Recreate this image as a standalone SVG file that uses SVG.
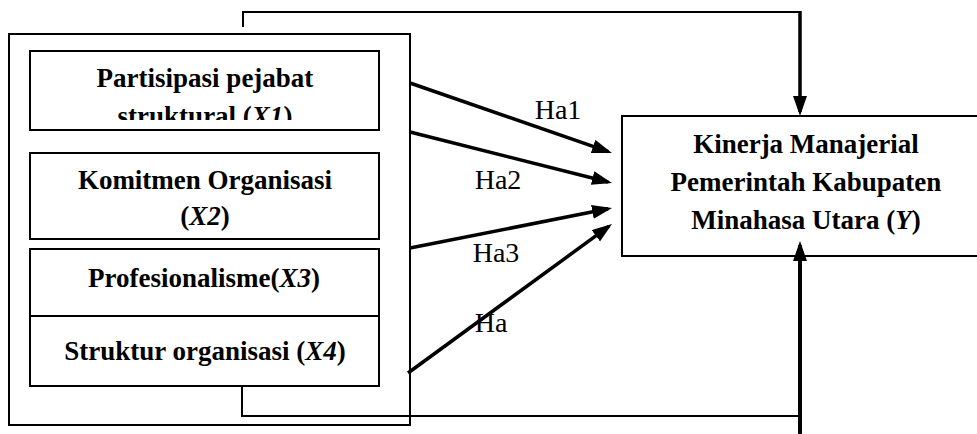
<svg xmlns="http://www.w3.org/2000/svg" width="977" height="434" viewBox="0 0 977 434">
<style>
.box{fill:none;stroke:#000;stroke-width:2}
.t{font-family:'Liberation Serif','Times New Roman','DejaVu Serif',serif;font-weight:bold;font-size:27px;fill:#000;text-anchor:middle}
.lbl{font-family:'Liberation Serif','Times New Roman','DejaVu Serif',serif;font-size:28px;fill:#000;text-anchor:middle}
.arr{fill:none;stroke:#000;stroke-width:3.5}
.thin{fill:none;stroke:#000;stroke-width:2}
</style>
<defs>
<marker id="ah" markerUnits="userSpaceOnUse" markerWidth="22" markerHeight="16" refX="16" refY="7" orient="auto">
<path d="M0,0 L20,7 L0,14 z" fill="#000"/>
</marker>
<clipPath id="c1"><rect x="30" y="51" width="349" height="69"/></clipPath>
</defs>
<rect width="977" height="434" fill="#fff"/>
<g id="outer"><rect class="box" x="9" y="34" width="401" height="391"/></g>
<g id="x1">
<rect class="box" x="30" y="51" width="349" height="79"/>
<g clip-path="url(#c1)">
<text class="t" x="205" y="87">Partisipasi pejabat</text>
<text class="t" x="205" y="125">struktural (<tspan font-style="italic">X1</tspan>)</text>
</g>
</g>
<g id="x2">
<rect class="box" x="30" y="153" width="349" height="86"/>
<text class="t" x="205" y="189">Komitmen Organisasi</text>
<text class="t" x="205" y="225">(<tspan font-style="italic">X2</tspan>)</text>
</g>
<g id="x3">
<rect class="box" x="30" y="249" width="349" height="67"/>
<text class="t" x="204" y="287">Profesionalisme(<tspan font-style="italic">X3</tspan>)</text>
</g>
<g id="x4">
<rect class="box" x="30" y="316" width="349" height="70"/>
<text class="t" x="205" y="360">Struktur organisasi (<tspan font-style="italic">X4</tspan>)</text>
</g>
<g id="y">
<rect class="box" x="622" y="116" width="370" height="140"/>
<text class="t" x="806" y="153">Kinerja Manajerial</text>
<text class="t" x="806" y="191">Pemerintah Kabupaten</text>
<text class="t" x="806" y="229">Minahasa Utara (<tspan font-style="italic">Y</tspan>)</text>
</g>
<g id="connectors">
<line class="arr" x1="410" y1="83" x2="608.2" y2="151.7" marker-end="url(#ah)"/>
<line class="arr" x1="410" y1="132" x2="608.1" y2="182" marker-end="url(#ah)"/>
<line class="arr" x1="410" y1="248" x2="608.1" y2="208.8" marker-end="url(#ah)"/>
<line class="arr" x1="408" y1="373" x2="608.8" y2="226.4" marker-end="url(#ah)"/>
<polyline class="thin" points="243,27 243,12 800,12"/>
<line class="arr" x1="800" y1="11" x2="800" y2="112" marker-end="url(#ah)"/>
<polyline class="thin" points="242,386 242,416 800,416"/>
<line x1="800" y1="434" x2="800" y2="245" stroke="#000" stroke-width="4" marker-end="url(#ah)"/>
</g>
<g id="labels">
<text class="lbl" x="558" y="119">Ha1</text>
<text class="lbl" x="498" y="189">Ha2</text>
<text class="lbl" x="496" y="262">Ha3</text>
<text class="lbl" x="491" y="332">Ha</text>
</g>
</svg>
